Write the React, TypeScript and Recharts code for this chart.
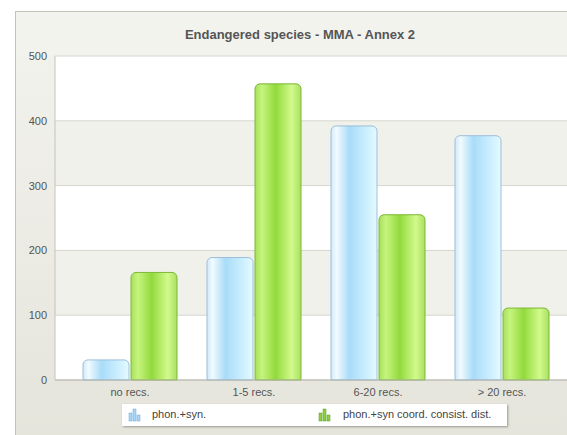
import { BarChart, Bar, XAxis, YAxis, CartesianGrid } from 'recharts';

const categories = ['no recs.', '1-5 recs.', '6-20 recs.', '> 20 recs.'];
const phonSyn = [31, 189, 392, 377];
const phonSynCoord = [166, 457, 255, 111];
const yTicks = [0, 100, 200, 300, 400, 500];
const seriesNames = ['phon.+syn.', 'phon.+syn coord. consist. dist.'];

const data = categories.map((name, i) => ({
  name,
  a: phonSyn[i],
  b: phonSynCoord[i],
}));

const font = '"Liberation Sans", Arial, sans-serif';

function LegendIcon({ color, light }: { color: string; light: string }): React.ReactElement {
  return (
    <svg width={14} height={14} style={{ verticalAlign: 'middle' }}>
      <rect x={1} y={5} width={3} height={8} fill={light} stroke={color} strokeWidth={0.5} />
      <rect x={5} y={1} width={3} height={12} fill={light} stroke={color} strokeWidth={0.5} />
      <rect x={9} y={7} width={3} height={6} fill={light} stroke={color} strokeWidth={0.5} />
    </svg>
  );
}

export default function App(): React.ReactElement {
  return (
    <div
      style={{
        position: 'fixed',
        left: 0,
        top: 0,
        width: 567,
        height: 435,
        overflow: 'hidden',
        background: '#fff',
        fontFamily: font,
      }}
    >
      <svg width={0} height={0} style={{ position: 'absolute' }}>
        <defs>
          <linearGradient id="gBlue" x1="0" y1="0" x2="1" y2="0">
            <stop offset="0%" stopColor="#cfe9fb" />
            <stop offset="12%" stopColor="#f2fbff" />
            <stop offset="40%" stopColor="#a9dcf8" />
            <stop offset="75%" stopColor="#c9eeff" />
            <stop offset="100%" stopColor="#e6faff" />
          </linearGradient>
          <linearGradient id="gGreen" x1="0" y1="0" x2="1" y2="0">
            <stop offset="0%" stopColor="#a6e05a" />
            <stop offset="15%" stopColor="#c6f47e" />
            <stop offset="45%" stopColor="#92da3c" />
            <stop offset="80%" stopColor="#d2fa8c" />
            <stop offset="100%" stopColor="#a8e060" />
          </linearGradient>
        </defs>
      </svg>
      <div
        style={{
          position: 'absolute',
          left: 15,
          top: 11,
          width: 600,
          height: 440,
          border: '1px solid #c4c4bc',
          background: 'linear-gradient(#f3f3ee, #e5e4db)',
        }}
      />
      <div
        style={{
          position: 'absolute',
          left: 16,
          top: 12,
          width: 600,
          height: 43,
          background: '#f3f3ee',
        }}
      />
      <div
        style={{
          position: 'absolute',
          left: 0,
          top: 27,
          width: 600,
          textAlign: 'center',
          fontSize: 13,
          fontWeight: 'bold',
          color: '#555',
        }}
      >
        Endangered species - MMA - Annex 2
      </div>
      <div style={{ position: 'absolute', left: 0, top: 0 }}>
        <BarChart
          width={600}
          height={435}
          data={data}
          margin={{ top: 56, right: 23, bottom: 25, left: 0 }}
          barSize={46}
          barGap={2}
        >
          <CartesianGrid
            vertical={false}
            stroke="#d6d6ce"
            horizontalFill={['#ffffff', '#f1f1ec', '#ffffff', '#f1f1ec', '#ffffff']}
          />
          <XAxis
            dataKey="name"
            height={30}
            padding={{ left: 13, right: 13 }}
            tickLine={false}
            axisLine={{ stroke: '#b4b4ac' }}
            tick={{ fontSize: 11, fill: '#555', fontFamily: font }}
          />
          <YAxis
            width={55}
            domain={[0, 500]}
            ticks={yTicks}
            tickLine={false}
            axisLine={{ stroke: '#c4c4bc' }}
            tick={{ fontSize: 11, fill: '#555', fontFamily: font }}
          />
          <Bar
            dataKey="a"
            name={seriesNames[0]}
            fill="url(#gBlue)"
            stroke="#9cbedc"
            strokeWidth={1}
            radius={[5, 5, 0, 0]}
            isAnimationActive={false}
          />
          <Bar
            dataKey="b"
            name={seriesNames[1]}
            fill="url(#gGreen)"
            stroke="#7cb836"
            strokeWidth={1}
            radius={[5, 5, 0, 0]}
            isAnimationActive={false}
          />
        </BarChart>
      </div>
      <div
        style={{
          position: 'absolute',
          left: 122,
          top: 404,
          width: 385,
          height: 22,
          background: '#fff',
          boxShadow: '1px 1px 2px rgba(0,0,0,0.35)',
          fontSize: 11,
          color: '#444',
        }}
      >
        <div style={{ position: 'absolute', left: 6, top: 4 }}>
          <LegendIcon color="#6aa6d8" light="#a8d6f6" />
        </div>
        <div style={{ position: 'absolute', left: 30, top: 4 }}>{seriesNames[0]}</div>
        <div style={{ position: 'absolute', left: 196, top: 4 }}>
          <LegendIcon color="#5a9a20" light="#8fd040" />
        </div>
        <div style={{ position: 'absolute', left: 221, top: 4 }}>{seriesNames[1]}</div>
      </div>
    </div>
  );
}
